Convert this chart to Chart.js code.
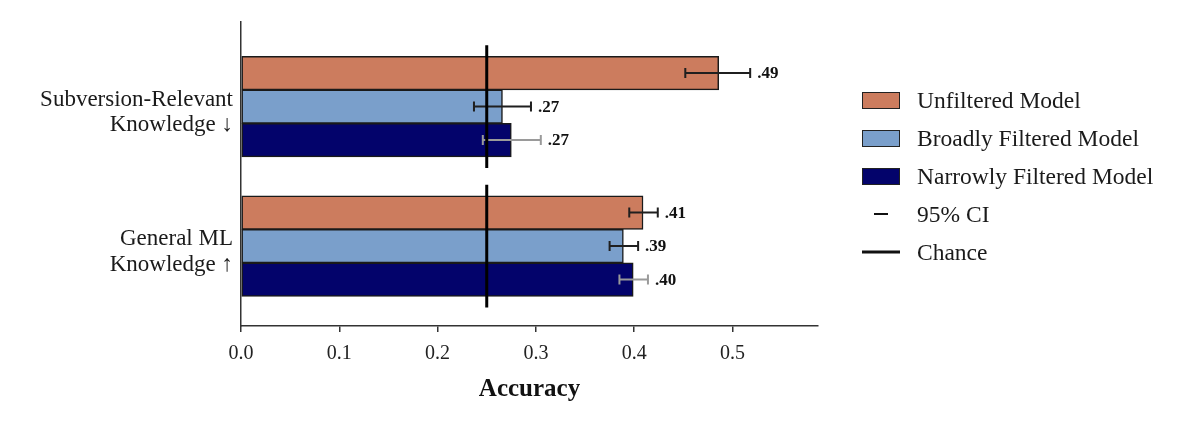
<!DOCTYPE html>
<html>
<head>
<meta charset="utf-8">
<script src="https://cdn.jsdelivr.net/npm/chart.js@4.4.1/dist/chart.umd.min.js"></script>
<style>
  body { margin: 0; background: #fff; }
  #wrap { position: relative; width: 1199px; height: 422px; }
  .legend { position: absolute; left: 862px; top: 81px; font-family: "Liberation Serif", serif; font-size: 23.5px; color: #1a1a1a; }
  .legend .item { display: flex; align-items: center; height: 38px; }
  .legend .sw { width: 38px; height: 17px; box-sizing: border-box; margin-right: 17px; position: relative; }
  .legend .box { border: 1.5px solid #222; }
  .legend .line::after { content: ""; position: absolute; top: 50%; transform: translateY(-50%); background: #111; }
</style>
</head>
<body>
<div id="wrap">
  <canvas id="acc-chart" width="1199" height="422"></canvas>
  <div class="legend" id="legend"></div>
</div>
<script>
// categories (top to bottom)
const categories = [["Subversion-Relevant", "Knowledge ↓"], ["General ML", "Knowledge ↑"]];
const seriesNames = ["Unfiltered Model", "Broadly Filtered Model", "Narrowly Filtered Model"];

// accuracy per category
const unfilteredAcc = [0.486, 0.409];
const broadlyAcc = [0.266, 0.389];
const narrowlyAcc = [0.275, 0.399];

// 95% CI per category
const unfilteredCI = [[0.452, 0.518], [0.395, 0.424]];
const broadlyCI = [[0.237, 0.295], [0.375, 0.404]];
const narrowlyCI = [[0.246, 0.305], [0.385, 0.414]];

// printed value labels
const unfilteredLabels = [".49", ".41"];
const broadlyLabels = [".27", ".39"];
const narrowlyLabels = [".27", ".40"];

const chanceLevel = 0.25;
const xTicks = [0, 0.1, 0.2, 0.3, 0.4, 0.5];

const COLORS = ["#CC7C5E", "#7A9FCB", "#03036B"];
const CI_COLORS = ["#1f1f1f", "#1f1f1f", "#9a9a9a"];
const FONT = '"Liberation Serif", serif';

const positions = categories.map((c, i) => i);

function toPoints(vals) {
  return vals.map((v, i) => ({ x: v, y: positions[i] }));
}

const chanceData = positions.flatMap((p) => [
  { x: chanceLevel, y: p - 0.44 },
  { x: chanceLevel, y: p + 0.44 },
  { x: null, y: null },
]);

const errorBars = {
  id: "errorBars",
  afterDatasetDraw(chart, args) {
    const ds = chart.data.datasets[args.index];
    if (!ds.ci) return;
    const ctx = chart.ctx;
    const xs = chart.scales.x;
    args.meta.data.forEach((bar, i) => {
      const x1 = xs.getPixelForValue(ds.ci[i][0]);
      const x2 = xs.getPixelForValue(ds.ci[i][1]);
      const y = bar.y;
      ctx.save();
      ctx.strokeStyle = ds.ciColor;
      ctx.lineWidth = 2;
      ctx.beginPath();
      ctx.moveTo(x1, y);
      ctx.lineTo(x2, y);
      ctx.moveTo(x1, y - 5);
      ctx.lineTo(x1, y + 5);
      ctx.moveTo(x2, y - 5);
      ctx.lineTo(x2, y + 5);
      ctx.stroke();
      ctx.font = "bold 17px " + FONT;
      ctx.fillStyle = "#111";
      ctx.textBaseline = "middle";
      ctx.textAlign = "left";
      ctx.fillText(ds.valueLabels[i], x2 + 7, y + 1);
      ctx.restore();
    });
  },
};

const barSets = [
  [unfilteredAcc, unfilteredCI, unfilteredLabels],
  [broadlyAcc, broadlyCI, broadlyLabels],
  [narrowlyAcc, narrowlyCI, narrowlyLabels],
];

const datasets = barSets.map(([vals, ci, labels], k) => ({
  type: "bar",
  label: seriesNames[k],
  data: toPoints(vals),
  backgroundColor: COLORS[k],
  borderColor: "#1a1a1a",
  borderWidth: 1.5,
  borderSkipped: false,
  barThickness: 33.5,
  ci: ci,
  ciColor: CI_COLORS[k],
  valueLabels: labels,
  order: 1,
}));

datasets.push({
  type: "line",
  label: "Chance",
  data: chanceData,
  borderColor: "#000",
  borderWidth: 3,
  pointRadius: 0,
  spanGaps: false,
  order: 0,
});

const chart = new Chart("acc-chart", {
  type: "bar",
  data: { datasets },
  plugins: [errorBars],
  options: {
    responsive: false,
    animation: false,
    indexAxis: "y",
    layout: { padding: { left: 0, right: 381, top: 22, bottom: 0 } },
    plugins: { legend: { display: false }, tooltip: { enabled: false } },
    scales: {
      x: {
        type: "linear",
        min: 0,
        max: 0.587,
        afterBuildTicks(scale) {
          scale.ticks = xTicks.map((v) => ({ value: v }));
        },
        afterFit(scale) {
          scale.height = 96;
        },
        ticks: {
          callback: (v) => Number(v).toFixed(1),
          font: { family: FONT, size: 20 },
          color: "#222",
          padding: 10,
        },
        grid: { drawOnChartArea: false, drawTicks: true, tickLength: 6, color: "#333", lineWidth: 1.5 },
        border: { display: true, color: "#333", width: 1.5 },
        title: {
          display: true,
          text: "Accuracy",
          font: { family: FONT, size: 25, weight: "bold" },
          color: "#111",
          padding: { top: 4, bottom: 17 },
        },
      },
      y: {
        type: "linear",
        reverse: true,
        offset: false,
        min: -0.606,
        max: 1.573,
        afterBuildTicks(scale) {
          scale.ticks = positions.map((p) => ({ value: p }));
        },
        afterFit(scale) {
          scale.width = 241;
          scale.paddingTop = 0;
          scale.paddingBottom = 0;
        },
        ticks: {
          callback: (v) => categories[v],
          font: { family: FONT, size: 23, lineHeight: 1.1 },
          color: "#1a1a1a",
          padding: 8,
          labelOffset: 6,
        },
        grid: { display: false, drawTicks: false },
        border: { display: true, color: "#333", width: 1.5 },
      },
    },
  },
});

// HTML legend
const legendItems = [
  { text: seriesNames[0], kind: "box", color: COLORS[0] },
  { text: seriesNames[1], kind: "box", color: COLORS[1] },
  { text: seriesNames[2], kind: "box", color: COLORS[2] },
  { text: "95% CI", kind: "line", w: 14, h: 2 },
  { text: "Chance", kind: "line", w: 38, h: 3 },
];
const legendEl = document.getElementById("legend");
legendItems.forEach((it) => {
  const row = document.createElement("div");
  row.className = "item";
  const sw = document.createElement("span");
  sw.className = "sw " + it.kind;
  if (it.kind === "box") sw.style.background = it.color;
  const txt = document.createElement("span");
  txt.textContent = it.text;
  row.appendChild(sw);
  row.appendChild(txt);
  legendEl.appendChild(row);
  if (it.kind === "line") {
    const st = document.createElement("style");
    sw.dataset.k = it.text;
    st.textContent = `.sw[data-k="${it.text}"]::after{left:${(38 - it.w) / 2}px;width:${it.w}px;height:${it.h}px;}`;
    document.head.appendChild(st);
  }
});
</script>
</body>
</html>
